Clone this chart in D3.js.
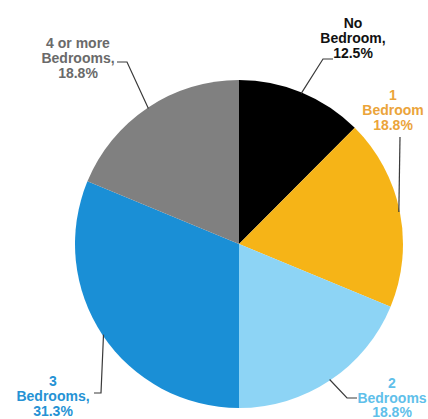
<!DOCTYPE html>
<meta charset="utf-8">
<title>Units by number of bedrooms</title>
<script src="https://d3js.org/d3.v7.min.js"></script>
<style>
  body { margin: 0; background: #fff; }
  text.label {
    font-family: "Liberation Sans", Arial, sans-serif;
    font-size: 14px;
    font-weight: bold;
    text-anchor: middle;
  }
  .leader { fill: none; stroke: #3a3a3a; stroke-width: 1.2px; }
</style>
<div id="chart"></div>
<script>
// data
var categories = ["No Bedroom", "1 Bedroom", "2 Bedrooms", "3 Bedrooms", "4 or more Bedrooms"];
var shares = [12.5, 18.8, 18.8, 31.3, 18.8];
var labelLines = [
  ["No", "Bedroom,", "12.5%"],
  ["1", "Bedroom", "18.8%"],
  ["2", "Bedrooms", "18.8%"],
  ["3", "Bedrooms,", "31.3%"],
  ["4 or more", "Bedrooms,", "18.8%"]
];
var sliceColors = ["#000000", "#f6b417", "#8dd4f5", "#1a8fd6", "#808080"];
var textColors = ["#111111", "#eba43a", "#5fc0ea", "#2592d4", "#6a6a6a"];

var width = 428, height = 419;
var cx = 239, cy = 244, r = 164;

// label placement: text centre, first baseline, line gap, leader elbow and end
var labelPos = [
  {x: 353, y: 28, gap: 15, elbow: [323, 59], end: [333, 59]},
  {x: 393, y: 100, gap: 15, elbow: [400, 137], end: [400, 137]},
  {x: 392, y: 388, gap: 14.5, elbow: [347, 398], end: [357, 398]},
  {x: 53, y: 386, gap: 15, elbow: [101, 393], end: [94, 393]},
  {x: 78, y: 48, gap: 15, elbow: [127, 62], end: [117, 62]}
];

var svg = d3.select("#chart").append("svg")
  .attr("width", width)
  .attr("height", height);

var pie = d3.pie().sort(null).value(function(d) { return d; });
var arcs = pie(shares);

var arc = d3.arc().innerRadius(0).outerRadius(r);

var g = svg.append("g").attr("transform", "translate(" + cx + "," + cy + ")");

g.selectAll("path.slice")
  .data(arcs)
  .enter()
  .append("path")
  .attr("class", "slice")
  .attr("d", arc)
  .attr("fill", function(d, i) { return sliceColors[i]; });

// leader lines from the rim at the slice's middle angle
function rimPoint(d) {
  var a = (d.startAngle + d.endAngle) / 2;
  return [cx + (r - 1) * Math.sin(a), cy - (r - 1) * Math.cos(a)];
}

svg.selectAll("path.leader")
  .data(arcs)
  .enter()
  .append("path")
  .attr("class", "leader")
  .attr("d", function(d, i) {
    var p = rimPoint(d), lp = labelPos[i];
    return d3.line()([p, lp.elbow, lp.end]);
  });

labelLines.forEach(function(lines, i) {
  var t = svg.append("text")
    .attr("class", "label")
    .attr("fill", textColors[i]);
  lines.forEach(function(s, j) {
    t.append("tspan")
      .attr("x", labelPos[i].x)
      .attr("y", labelPos[i].y + j * labelPos[i].gap)
      .text(s);
  });
});
</script>
